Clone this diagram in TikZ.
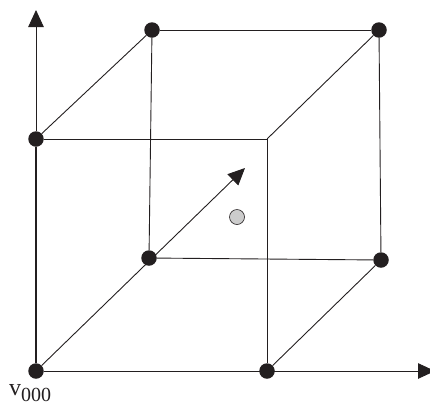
\documentclass[tikz,border=0pt]{standalone}
\usepackage{fontspec}
\setmainfont{Liberation Serif}
\usetikzlibrary{arrows.meta}
\definecolor{ink}{HTML}{231F20}
\tikzset{
  vertex/.style={circle,fill=ink,draw=none,minimum size=15.5pt,inner sep=0pt},
  corner/.style={inner sep=0pt,minimum size=0pt},
  centerdot/.style={circle,fill=black!20,draw=ink,line width=0.6pt,minimum size=15pt,inner sep=0pt},
  edge/.style={draw=ink,line width=0.9pt},
  axis/.style={draw=ink,line width=0.9pt,-{Triangle[length=17pt,width=15.5pt]},shorten >=0pt},
  heavy/.style={draw=ink,line width=1.9pt},
  label/.style={inner sep=0pt,text=ink,anchor=base west}
}
\begin{document}
\begin{tikzpicture}[x=1pt,y=-1pt]
\useasboundingbox (0,0) rectangle (430,405);
\clip (0,0) rectangle (430,405);
\node[vertex] (a) at (36,371) {};
\node[vertex] (b) at (267,371) {};
\node[vertex] (c) at (36,139) {};
\node[corner] (d) at (267,139) {};
\node[vertex] (e) at (149,258) {};
\node[vertex] (f) at (381,260) {};
\node[vertex] (g) at (152,30) {};
\node[vertex] (h) at (379,30) {};
\node[centerdot] (m) at (237,217) {};
\coordinate (up) at (36,10);
\coordinate (right) at (435,371);
\coordinate (diag) at (245,168);
\draw[edge] (b) -- (d);
\draw[edge] (c) -- (d);
\draw[edge] (d) -- (h);
\draw[edge] (g) -- (h);
\draw[edge] (c) -- (g);
\draw[edge] (e) -- (g);
\draw[edge] (e) -- (f);
\draw[edge] (f) -- (h);
\draw[edge] (b) -- (f);
\draw[heavy] (a) -- (c);
\draw[axis] (c) -- (up);
\draw[axis] (a) -- (right);
\draw[axis] (a) -- (diag);
\node[label] (v) at (9,395.5) {\fontsize{24pt}{24pt}\selectfont v\raisebox{-5.5pt}{\fontsize{20pt}{20pt}\selectfont 000}};
\end{tikzpicture}
\end{document}
